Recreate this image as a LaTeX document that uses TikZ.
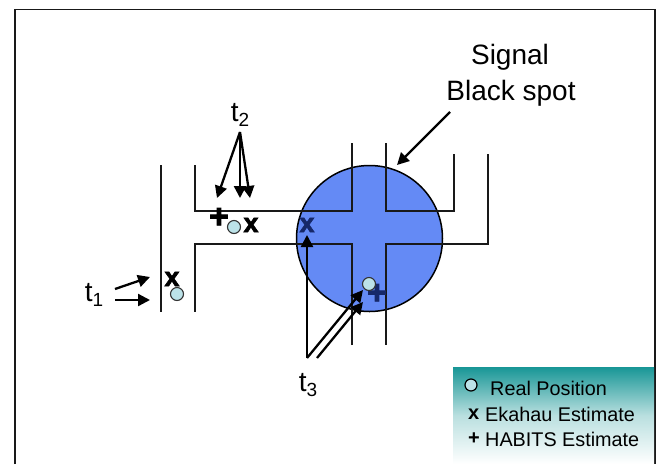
\documentclass[tikz,border=0pt]{standalone}
\usepackage{fontspec}
\setmainfont{Liberation Sans}
\newfontfamily\heavy[FakeBold=2.5]{Liberation Sans Bold}
\usetikzlibrary{arrows.meta}
\definecolor{teal1}{RGB}{24,150,150}
\definecolor{blob}{RGB}{100,138,245}
\definecolor{real}{RGB}{188,226,232}
\definecolor{navy}{RGB}{22,40,105}
\tikzset{x=1pt,y=-1pt,
 wall/.style={line width=1.6pt,black!90},
 frameline/.style={line width=1.8pt,black!90},
 ptr/.style={line width=2.3pt,-{Triangle[length=12pt,width=12pt]}},
 realpos/.style={circle,draw=black!80,line width=1.1pt,fill=real,minimum size=13pt,inner sep=0pt},
 markx/.style={font=\fontsize{27}{27}\selectfont\heavy,inner sep=0pt},
 markp/.style={font=\fontsize{34}{34}\selectfont\heavy,inner sep=0pt},
 lbl/.style={font=\fontsize{28}{30}\selectfont,inner sep=0pt,align=center},
 leg/.style={font=\fontsize{19.8}{22}\selectfont,inner sep=0pt,anchor=west},
 legmark/.style={font=\fontsize{20}{22}\selectfont\bfseries,inner sep=0pt,anchor=west},
}
\newcommand{\tlabel}[1]{t\raisebox{-5pt}{\fontsize{19}{19}\selectfont #1}}
\begin{document}
\begin{tikzpicture}
\useasboundingbox (0,0) rectangle (656,464);
\fill[white] (0,0) rectangle (656,464);
\draw[frameline] (15,464) -- (15,9.5) -- (655,9.5) -- (655,464);
% black spot
\node[circle,minimum size=146pt,inner sep=0pt,fill=blob,draw=black,line width=1.5pt] (spot) at (369.5,238.5) {};
% corridors
\draw[wall] (161,165) -- (161,312);
\draw[wall] (195,165) -- (195,211) -- (352,211) -- (352,143);
\draw[wall] (386,143) -- (386,211) -- (454,211) -- (454,154);
\draw[wall] (488,154) -- (488,244) -- (386,244) -- (386,345);
\draw[wall] (352,345) -- (352,244) -- (195,244) -- (195,312);
% estimates
\node[markx] (xa) at (172,279) {x};
\node[markx] (xb) at (251,225) {x};
\node[markx,text=navy] (xc) at (307,225) {x};
\node[markp] (pa) at (219,218) {+};
\node[markp,text=navy] (pb) at (377,294) {+};
\node[realpos] (ra) at (177,294) {};
\node[realpos] (rb) at (234,227) {};
\node[realpos] (rc) at (369,284) {};
% labels
\node[lbl] (sig) at (510,57) {Signal};
\node[lbl] (bs) at (511,93) {Black spot};
\node[lbl] (t2) at (240,115) {\tlabel{2}};
\node[lbl] (t1) at (94,295) {\tlabel{1}};
\node[lbl] (t3) at (308,385) {\tlabel{3}};
% arrows
\coordinate (ts) at (450,112);
\coordinate (te) at (397,165);
\draw[ptr] (ts) -- (te);
\coordinate (b2) at (240,132);
\coordinate (b2a) at (217,198);
\coordinate (b2b) at (240,198);
\coordinate (b2c) at (250,198);
\draw[ptr] (b2) -- (b2a);
\draw[ptr] (b2) -- (b2b);
\draw[ptr] (b2) -- (b2c);
\coordinate (a1) at (115,289);
\coordinate (a1e) at (150,277);
\coordinate (a2) at (115,300);
\coordinate (a2e) at (150,300);
\draw[ptr] (a1) -- (a1e);
\draw[ptr] (a2) -- (a2e);
\coordinate (c1) at (307,358);
\coordinate (c1e) at (307,235);
\coordinate (c2e) at (363,290);
\coordinate (c3) at (317,358);
\coordinate (c3e) at (363,302);
\draw[ptr] (c1) -- (c1e);
\draw[ptr] (c1) -- (c2e);
\draw[ptr] (c3) -- (c3e);
% legend
\shade[top color=teal1,bottom color=white,middle color=teal1!30] (453,367) rectangle (654,464);
\node[circle,draw=black,line width=1.2pt,fill=real,minimum size=12pt,inner sep=0pt] (lr) at (471,385) {};
\node[leg] (l1) at (490,388) {Real Position};
\node[legmark] (l2x) at (468,414) {x};
\node[leg] (l2) at (485,414) {Ekahau Estimate};
\node[legmark] (l3x) at (468,439) {+};
\node[leg] (l3) at (485,439) {HABITS Estimate};
\end{tikzpicture}
\end{document}
